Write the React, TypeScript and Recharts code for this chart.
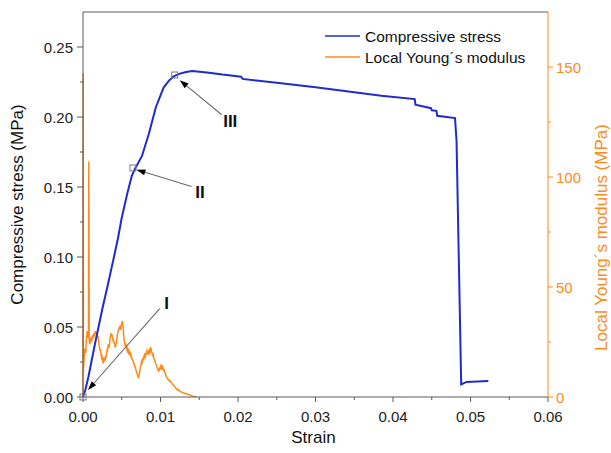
import {
  Legend,
  Line,
  LineChart,
  ReferenceDot,
  ReferenceLine,
  XAxis,
  YAxis,
} from "recharts";

// strain vs compressive stress (MPa)
const stressCurve: [number, number][] = [
  [0, 0], [0.0003, 0.005], [0.0007, 0.0145], [0.00155, 0.038], [0.0025, 0.063],
  [0.0032, 0.08], [0.0039, 0.0976], [0.0045, 0.113], [0.005, 0.128],
  [0.0057, 0.145], [0.0063, 0.158], [0.0068, 0.164], [0.0076, 0.172],
  [0.0085, 0.188], [0.0094, 0.207], [0.0104, 0.221], [0.0111, 0.226],
  [0.0117, 0.229], [0.0125, 0.231], [0.0133, 0.2322], [0.0141, 0.2328],
  [0.016, 0.2318], [0.018, 0.2303], [0.0204, 0.2288], [0.0206, 0.2272],
  [0.025, 0.2245], [0.03, 0.2212], [0.035, 0.2176], [0.0385, 0.2152],
  [0.0428, 0.2128], [0.0429, 0.2088], [0.0449, 0.2063], [0.045, 0.2048],
  [0.0456, 0.2044], [0.0457, 0.2009], [0.048, 0.1992], [0.0481, 0.191],
  [0.0482, 0.183], [0.0488, 0.009], [0.0495, 0.0108], [0.0523, 0.0114],
];

// strain vs local Young's modulus (MPa)
const modulusCurve: [number, number][] = [
  [0, 0], [0.00002, 147], [0.00005, 12], [0.00015, 18], [0.00025, 22], [0.00035, 20],
  [0.00045, 27], [0.00055, 30], [0.00065, 27], [0.0007, 29], [0.00075, 107],
  [0.0008, 26], [0.0009, 24], [0.00095, 25.5],
  [0.001, 27], [0.00105, 25.5], [0.0011, 25], [0.00115, 26.5], [0.0012, 28], [0.00125, 26.5],
  [0.0013, 27], [0.00135, 28.5], [0.0014, 29], [0.00145, 27.5], [0.0015, 28], [0.00155, 29.5],
  [0.0016, 30], [0.00165, 28.5], [0.0017, 29], [0.00175, 29.5], [0.0018, 28], [0.00185, 28.5],
  [0.0019, 27], [0.00195, 27.5], [0.002, 26], [0.00205, 24], [0.0021, 23], [0.00215, 22.5],
  [0.0022, 21], [0.00225, 21.5], [0.0023, 20], [0.00235, 19], [0.0024, 18], [0.00245, 18.5],
  [0.0025, 17.5], [0.00255, 16.5], [0.0026, 17], [0.00265, 16], [0.0027, 16.5], [0.00275, 17.5],
  [0.0028, 18], [0.00285, 16.8], [0.0029, 17], [0.00295, 18.5], [0.003, 18.5], [0.00305, 20],
  [0.0031, 21], [0.00315, 20.5], [0.0032, 22], [0.00325, 23.5], [0.0033, 24], [0.00335, 22.5],
  [0.0034, 23], [0.00345, 25], [0.0035, 27], [0.00355, 28], [0.0036, 29], [0.00365, 27.5],
  [0.0037, 28], [0.00375, 28.5], [0.0038, 27], [0.00385, 26], [0.0039, 26], [0.00395, 24.5],
  [0.004, 25], [0.00405, 24.5], [0.0041, 24], [0.00415, 22.5], [0.0042, 23], [0.00425, 24.5],
  [0.0043, 24], [0.00435, 25.5], [0.0044, 27], [0.00445, 28.5], [0.0045, 29], [0.00455, 30.5],
  [0.0046, 30], [0.00465, 31.5], [0.0047, 31], [0.00475, 32.5], [0.0048, 32], [0.00485, 30.5],
  [0.0049, 31.5], [0.00495, 33], [0.005, 33], [0.00505, 34.5], [0.0051, 34], [0.00515, 33],
  [0.0052, 31], [0.00525, 28], [0.0053, 26], [0.00535, 25], [0.0054, 24], [0.00545, 24.5],
  [0.0055, 23], [0.00555, 23.5], [0.0056, 22.5], [0.00565, 21.5], [0.0057, 21], [0.00575, 22],
  [0.0058, 21.5], [0.00585, 20.5], [0.0059, 20], [0.00595, 21], [0.006, 20.5], [0.00605, 19.5],
  [0.0061, 19], [0.00615, 19.5], [0.0062, 18.5], [0.00625, 18], [0.0063, 18], [0.00635, 17],
  [0.0064, 17], [0.00645, 16.5], [0.0065, 16], [0.00655, 15.5], [0.0066, 15], [0.00665, 14],
  [0.0067, 14], [0.00675, 13.5], [0.0068, 13], [0.00685, 12], [0.0069, 11.5], [0.00695, 11],
  [0.007, 10.5], [0.00705, 10], [0.0071, 9.5], [0.00715, 8.8], [0.0072, 9], [0.00725, 10],
  [0.0073, 11], [0.00735, 12.5], [0.0074, 13.5], [0.00745, 14], [0.0075, 15], [0.00755, 16],
  [0.0076, 16.5], [0.00765, 16], [0.0077, 17], [0.00775, 17.5], [0.0078, 18], [0.00785, 17.5],
  [0.0079, 18.5], [0.00795, 19.5], [0.008, 19.5], [0.00805, 18.5], [0.0081, 19], [0.00815, 20],
  [0.0082, 20], [0.00825, 21], [0.0083, 20.5], [0.00835, 19.5], [0.0084, 19.5], [0.00845, 20.5],
  [0.0085, 21], [0.00855, 20], [0.0086, 20.5], [0.00865, 21.5], [0.0087, 22], [0.00875, 21],
  [0.0088, 21.5], [0.00885, 20.5], [0.0089, 20], [0.00895, 19.5], [0.009, 19], [0.00905, 19.5],
  [0.0091, 18.5], [0.00915, 17.5], [0.0092, 17], [0.00925, 16.5], [0.0093, 16], [0.00935, 15.5],
  [0.0094, 15], [0.00945, 14.5], [0.0095, 14], [0.00955, 13.5], [0.0096, 13], [0.00965, 12.5],
  [0.0097, 12.5], [0.00975, 11.8], [0.0098, 12], [0.00985, 12.8], [0.0099, 12.5], [0.00995, 13.2],
  [0.01, 13], [0.01005, 14], [0.0101, 13.5], [0.01015, 14.2], [0.0102, 14], [0.01025, 13],
  [0.0103, 13.5], [0.01035, 12.8], [0.0104, 12.5], [0.01045, 11.8], [0.0105, 12], [0.01055, 11.2],
  [0.0106, 11], [0.01065, 10.2], [0.0107, 10], [0.01075, 9.2], [0.0108, 9], [0.01085, 8.8],
  [0.0109, 8.5], [0.01095, 8.2], [0.011, 8], [0.0111, 7.6], [0.0112, 7], [0.0113, 7.2],
  [0.0114, 6.5], [0.0115, 6.2], [0.0116, 5.5], [0.0117, 5.3], [0.0118, 5], [0.0119, 4.3],
  [0.012, 4], [0.0121, 3.6], [0.0122, 3.2], [0.0123, 3.4], [0.0124, 3], [0.0125, 2.7],
  [0.0126, 2.5], [0.0127, 2.2], [0.0128, 2], [0.0129, 2.1], [0.013, 1.8], [0.0132, 1.6],
  [0.0134, 1.4], [0.0136, 1.2], [0.0138, 0.9], [0.014, 0.6], [0.0142, 0.4], [0.0144, 0.2],
  [0.0146, 0],
];

const strainTicks = [0, 0.005, 0.01, 0.015, 0.02, 0.025, 0.03, 0.035, 0.04, 0.045, 0.05, 0.055, 0.06];
const stressTicks = [0, 0.025, 0.05, 0.075, 0.1, 0.125, 0.15, 0.175, 0.2, 0.225, 0.25];
const modulusTicks = [0, 25, 50, 75, 100, 125, 150];

// annotated stages: marker point, arrow tip, arrow tail, label position (data coords)
const stages = [
  { name: "I", point: [0, 0], tip: [0.00064, 0.005], tail: [0.0099, 0.0631], label: [0.0108, 0.0669] },
  { name: "II", point: [0.00645, 0.1636], tip: [0.00689, 0.1624], tail: [0.014, 0.1503], label: [0.0151, 0.1462] },
  { name: "III", point: [0.01183, 0.23], tip: [0.01248, 0.2263], tail: [0.0179, 0.2016], label: [0.019, 0.1968] },
];

const stressData = stressCurve.map(([strain, stress]) => ({ strain, stress }));
const modulusData = modulusCurve.map(([strain, modulus]) => ({ strain, modulus }));

const FONT = "'Liberation Sans', Arial, sans-serif";
const BLUE = "#1f2bd0";
const ORANGE = "#ff8a1c";
const AXIS = "#5a5a5a";

const isMajor = (v: number, step: number) =>
  Math.abs(v / step - Math.round(v / step)) < 1e-6;

const BottomTick = ({ x, y, payload }: any) => {
  const major = isMajor(payload.value, 0.01);
  return (
    <g>
      <line x1={x} x2={x} y1={y} y2={y + (major ? 5 : 3)} stroke={AXIS} />
      {major && (
        <text x={x} y={y + 25} textAnchor="middle" fontSize={15} fill="#222" fontFamily={FONT}>
          {payload.value.toFixed(2)}
        </text>
      )}
    </g>
  );
};

const TopTick = ({ x, y, payload }: any) => {
  const major = isMajor(payload.value, 0.01);
  return <line x1={x} x2={x} y1={y} y2={y + (major ? 5 : 3)} stroke={AXIS} />;
};

const LeftTick = ({ x, y, payload }: any) => {
  const major = isMajor(payload.value, 0.05);
  return (
    <g>
      <line x1={x} x2={x - (major ? 6 : 3)} y1={y} y2={y} stroke={AXIS} />
      {major && (
        <text x={x - 10} y={y} textAnchor="end" dominantBaseline="central" fontSize={15} fill="#222" fontFamily={FONT}>
          {payload.value.toFixed(2)}
        </text>
      )}
    </g>
  );
};

const RightTick = ({ x, y, payload }: any) => {
  const major = isMajor(payload.value, 50);
  return (
    <g>
      <line x1={x} x2={x + (major ? 5 : 3)} y1={y} y2={y} stroke={ORANGE} />
      {major && (
        <text x={x + 8} y={y} textAnchor="start" dominantBaseline="central" fontSize={15} fill={ORANGE} fontFamily={FONT}>
          {payload.value}
        </text>
      )}
    </g>
  );
};

const Arrow = ({ x1, y1, x2, y2 }: any) => {
  const ang = Math.atan2(y2 - y1, x2 - x1);
  const len = 9;
  const half = 3;
  const bx = x2 - len * Math.cos(ang);
  const by = y2 - len * Math.sin(ang);
  const px = -Math.sin(ang) * half;
  const py = Math.cos(ang) * half;
  return (
    <g>
      <line x1={x1} y1={y1} x2={bx} y2={by} stroke="#6a6a6a" strokeWidth={1.1} />
      <polygon points={`${x2},${y2} ${bx + px},${by + py} ${bx - px},${by - py}`} fill="#000" />
    </g>
  );
};

const StageMarker = ({ cx, cy }: any) => (
  <rect x={cx - 3} y={cy - 3} width={6} height={6} fill="none" stroke="#7a7a7a" strokeWidth={1} />
);

const stageLabel = (name: string) => ({ cx, cy }: any) => (
  <text x={cx} y={cy} textAnchor="middle" dominantBaseline="central" fontSize={17} fontWeight="bold" fill="#111" fontFamily={FONT}>
    {name}
  </text>
);

const LegendBox = () => (
  <svg width={230} height={48} style={{ display: "block" }}>
    <line x1={3} x2={38} y1={12} y2={12} stroke={BLUE} strokeWidth={1.5} />
    <text x={43} y={12} dominantBaseline="central" fontSize={15.5} fill="#111" fontFamily={FONT}>
      Compressive stress
    </text>
    <line x1={3} x2={38} y1={33} y2={33} stroke={ORANGE} strokeWidth={1.5} />
    <text x={43} y={33} dominantBaseline="central" fontSize={15.5} fill="#111" fontFamily={FONT}>
      Local Young´s modulus
    </text>
  </svg>
);

export default function App() {
  return (
    <div style={{ position: "absolute", left: 0, top: 0, width: 611, height: 453, background: "#fff" }}>
      <LineChart width={611} height={453} margin={{ top: 12, right: 0, left: 0, bottom: 0 }}>
        <XAxis
          xAxisId="bottom"
          dataKey="strain"
          type="number"
          domain={[0, 0.06]}
          ticks={strainTicks}
          interval={0}
          height={56}
          stroke={AXIS}
          tickSize={0}
          tickMargin={0}
          tick={<BottomTick />}
          label={{
            content: ({ viewBox }: any) => (
              <text x={viewBox.x + viewBox.width / 2 - 2} y={viewBox.y + 46} textAnchor="middle" fontSize={17} fill="#111" fontFamily={FONT}>
                Strain
              </text>
            ),
          }}
        />
        <XAxis
          xAxisId="top"
          orientation="top"
          dataKey="strain"
          type="number"
          domain={[0, 0.06]}
          ticks={strainTicks}
          interval={0}
          mirror
          stroke={AXIS}
          tickSize={0}
          tickMargin={0}
          tick={<TopTick />}
        />
        <YAxis
          yAxisId="left"
          type="number"
          domain={[0, 0.275]}
          ticks={stressTicks}
          interval={0}
          width={83}
          stroke={AXIS}
          tickSize={0}
          tickMargin={0}
          tick={<LeftTick />}
          label={{
            content: ({ viewBox }: any) => (
              <text
                x={17}
                y={viewBox.y + viewBox.height / 2}
                transform={`rotate(-90 17 ${viewBox.y + viewBox.height / 2})`}
                textAnchor="middle"
                dominantBaseline="central"
                fontSize={17}
                fill="#111"
                fontFamily={FONT}
              >
                Compressive stress (MPa)
              </text>
            ),
          }}
        />
        <YAxis
          yAxisId="right"
          orientation="right"
          type="number"
          domain={[0, 175]}
          ticks={modulusTicks}
          interval={0}
          width={63}
          stroke={ORANGE}
          tickSize={0}
          tickMargin={0}
          tick={<RightTick />}
          label={{
            content: ({ viewBox }: any) => {
              const cx = viewBox.x + 53;
              const cy = viewBox.y + viewBox.height / 2 + 33;
              return (
                <text
                  x={cx}
                  y={cy}
                  transform={`rotate(-90 ${cx} ${cy})`}
                  textAnchor="middle"
                  dominantBaseline="central"
                  fontSize={17}
                  fill={ORANGE}
                  fontFamily={FONT}
                >
                  Local Young´s modulus (MPa)
                </text>
              );
            },
          }}
        />
        <Line
          xAxisId="bottom"
          yAxisId="right"
          data={modulusData}
          dataKey="modulus"
          type="linear"
          stroke={ORANGE}
          strokeWidth={1.5}
          dot={false}
          isAnimationActive={false}
        />
        <Line
          xAxisId="bottom"
          yAxisId="left"
          data={stressData}
          dataKey="stress"
          type="linear"
          stroke={BLUE}
          strokeWidth={2}
          dot={false}
          isAnimationActive={false}
        />
        {stages.map((s) => (
          <ReferenceLine
            key={`arrow-${s.name}`}
            xAxisId="bottom"
            yAxisId="left"
            segment={[
              { x: s.tail[0], y: s.tail[1] },
              { x: s.tip[0], y: s.tip[1] },
            ]}
            ifOverflow="visible"
            shape={<Arrow />}
          />
        ))}
        {stages.map((s) => (
          <ReferenceDot
            key={`pt-${s.name}`}
            xAxisId="bottom"
            yAxisId="left"
            x={s.point[0]}
            y={s.point[1]}
            ifOverflow="visible"
            shape={<StageMarker />}
          />
        ))}
        {stages.map((s) => (
          <ReferenceDot
            key={`lb-${s.name}`}
            xAxisId="bottom"
            yAxisId="left"
            x={s.label[0]}
            y={s.label[1]}
            ifOverflow="visible"
            shape={stageLabel(s.name)}
          />
        ))}
        <Legend
          layout="vertical"
          align="center"
          verticalAlign="middle"
          content={<LegendBox />}
          wrapperStyle={{ top: 24, left: 322, width: 230, height: 48 }}
        />
      </LineChart>
    </div>
  );
}
